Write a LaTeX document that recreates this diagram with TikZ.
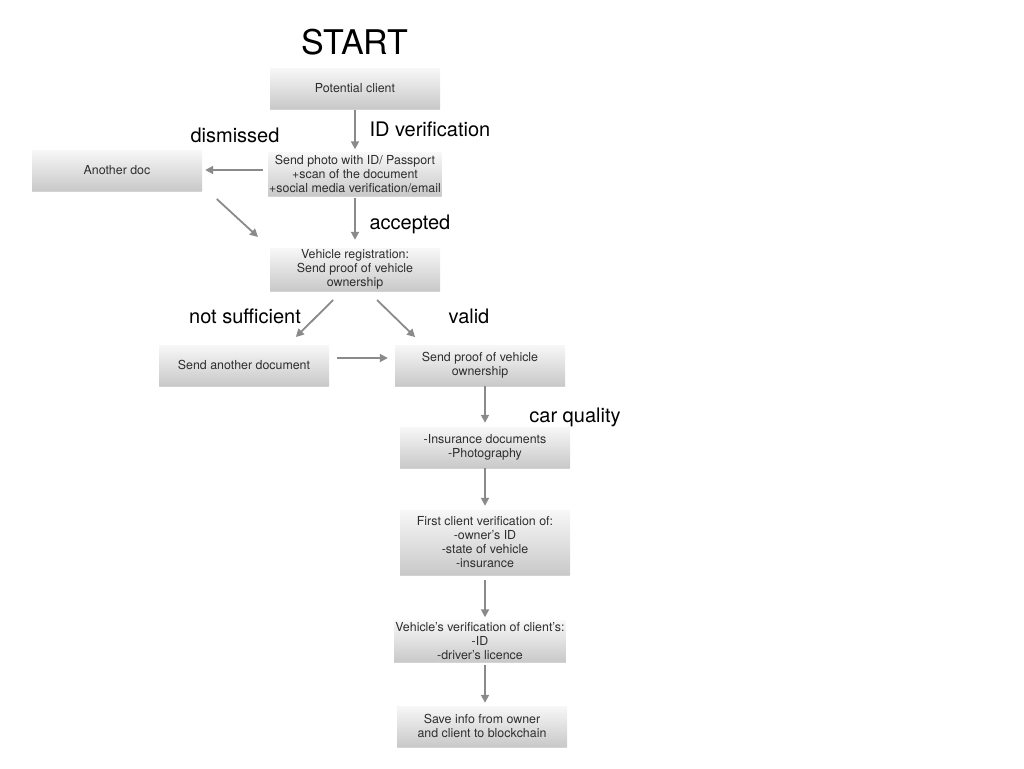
\documentclass[tikz,border=0pt]{standalone}
\usepackage{fontspec}
\setmainfont{TeX Gyre Heros}
\usepackage{tikz}
\usetikzlibrary{arrows.meta,shadows}
\usepackage{xcolor}
\definecolor{arrowgray}{HTML}{8A8A8A}
\definecolor{boxtext}{HTML}{2E2E2E}

\begin{document}
\begin{tikzpicture}[x=1pt,y=-1pt,
  box/.style={rectangle, minimum width=170pt, minimum height=40pt, inner sep=1pt,
    align=center, text=boxtext, font=\fontsize{12.4}{14}\selectfont,
    top color=black!3, bottom color=black!21,
    drop shadow={opacity=0.35, shadow xshift=0pt, shadow yshift=-1.5pt}},
  flow/.style={draw=arrowgray, line width=1.8pt, -{Triangle[length=8pt,width=8pt]}},
  lbl/.style={font=\fontsize{20}{23}\selectfont}]
\useasboundingbox (0,0) rectangle (1024,768);

% Title
\node (start) at (355,42) {\fontsize{34}{38}\selectfont START};

% Boxes
\node[box] (client) at (355,88) {Potential client};
\node[box, minimum height=43pt] (photo) at (355,174) {Send photo with ID/ Passport\\+scan of the document\\+social media verification/email};
\node[box] (another) at (117,170) {Another doc};
\node[box, minimum height=42pt] (vreg) at (355,269) {Vehicle registration:\\Send proof of vehicle\\ownership};
\node[box] (anotherdoc) at (244,365) {Send another document};
\node[box] (proof) at (480,365) {Send proof of vehicle\\ownership};
\node[box] (insurance) at (485,447) {-Insurance documents\\-Photography};
\node[box, minimum height=64pt] (firstcheck) at (485,542) {First client verification of:\\-owner's ID\\-state of vehicle\\-insurance};
\node[box, minimum height=41pt] (vehcheck) at (480,641) {Vehicle's verification of client's:\\-ID\\-driver's licence};
\node[box] (save) at (482,726) {Save info from owner\\and client to blockchain};

% Labels
\node[lbl, anchor=west] (idver) at (366,129) {ID verification};
\node[lbl] (dismissed) at (235,135) {dismissed};
\node[lbl, anchor=west] (accepted) at (366,224) {accepted};
\node[lbl] (notsuff) at (245,316) {not sufficient};
\node[lbl] (valid) at (469,316) {valid};
\node[lbl] (carq) at (575,417) {car quality};

% Arrows
\draw[flow, shorten <=2pt, shorten >=3pt] (client.south) -- (photo.north);
\draw[flow, shorten <=5pt, shorten >=3pt] (photo.west |- another) -- (another.east);
\draw[flow, shorten <=13pt, shorten >=16pt] ([xshift=5pt]another.south east) -- (vreg.north west);
\draw[flow, shorten <=2pt, shorten >=8pt] (photo.south) -- (vreg.north);
\draw[flow, shorten <=14pt, shorten >=11pt] ([xshift=-12pt]vreg.south) -- ([xshift=44pt]anotherdoc.north);
\draw[flow, shorten <=14pt, shorten >=11pt] ([xshift=12pt]vreg.south) -- ([xshift=-57pt]proof.north);
\draw[flow, shorten <=8pt, shorten >=7pt] ([yshift=7pt]anotherdoc.east) -- ([yshift=7pt]proof.west);
\draw[flow, shorten <=1pt, shorten >=4pt] (proof.south -| insurance) -- (insurance.north);
\draw[flow, shorten <=1pt, shorten >=4pt] (insurance.south) -- (firstcheck.north);
\draw[flow, shorten <=6pt, shorten >=3pt] (firstcheck.south) -- (firstcheck.south |- vehcheck.north);
\draw[flow, shorten <=3pt, shorten >=3pt] (firstcheck.south |- vehcheck.south) -- (firstcheck.south |- save.north);
\end{tikzpicture}
\end{document}
